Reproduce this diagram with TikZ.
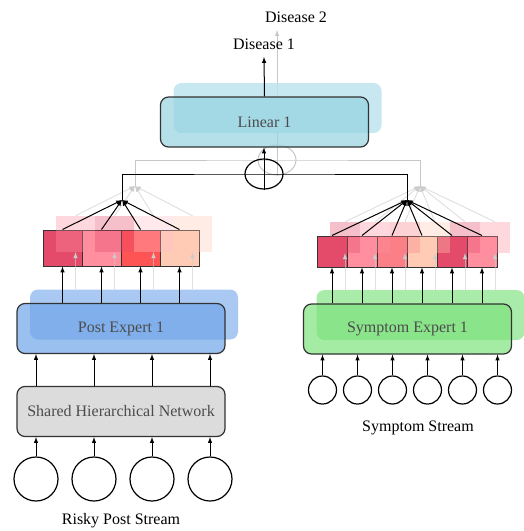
\documentclass[tikz,border=0pt]{standalone}
\usepackage{fontspec}
\setmainfont{Liberation Serif}
\usetikzlibrary{shapes.geometric}

\definecolor{crimsoncell}{HTML}{E44B6B}
\definecolor{pinkcell}{HTML}{FF8E9E}
\definecolor{redcell}{HTML}{FF5454}
\definecolor{salmoncell}{HTML}{FA7F87}
\definecolor{peachcell}{HTML}{FFCBB5}
\definecolor{lightpinkcell}{HTML}{FFC0CB}
\definecolor{sharedfill}{HTML}{DCDCDC}
\definecolor{postfill}{HTML}{6FA5E9}
\definecolor{postback}{HTML}{A9C9F2}
\definecolor{symptomfill}{HTML}{7EE27E}
\definecolor{symptomback}{HTML}{A9ECA9}
\definecolor{linearfill}{HTML}{95D3E1}
\definecolor{linearback}{HTML}{BEE4EE}

\begin{document}
\begin{tikzpicture}[x=1pt, y=-1pt, >=latex, font=\fontsize{16}{19}\selectfont,
    block/.style={draw=black!80, line width=1.2pt, rounded corners=8pt,
        minimum width=208pt, minimum height=50pt, text=black!70, fill opacity=0.7, text opacity=1},
    backblock/.style={rounded corners=8pt, minimum width=208pt, minimum height=50pt},
    cell/.style={draw=black!80, line width=1pt, inner sep=0pt,
        minimum width=39pt, minimum height=36pt},
    backcell/.style={inner sep=0pt, minimum width=39pt, minimum height=36pt, fill opacity=0.35},
    neuron/.style={circle, draw, line width=1.2pt, inner sep=0pt},
    link/.style={line width=1pt},
    backlink/.style={draw=black!22, line width=1pt},
    faintlink/.style={draw=black!20, draw opacity=0.6, line width=1pt}]

    \useasboundingbox (0,0) rectangle (524,531);

    % Shift of the second (Disease 2) layer
    \def\gx{13}
    \def\gy{-14}

    % Second layer, behind the boxes
    \begin{scope}[shift={(\gx,\gy)}]
        \coordinate (gaggL) at (122,200);
        \coordinate (gaggR) at (407,200);
        \coordinate (gout) at (264,44);
        \node[ellipse, draw=black!22, line width=1pt, minimum width=38pt,
            minimum height=30pt, inner sep=0pt] (gsum) at (264,174) {};
        \draw[backlink] (gaggL) |- (gsum.center) -| (gaggR);
        \draw[backlink, ->] (gsum.south) -- (gout);

        \node[backblock, fill=postback] (gpost) at (121,328.5) {};
        \node[backblock, fill=symptomback] (gsymptom) at (407.5,329) {};
        \node[backblock, fill=linearback, fill opacity=0.85] (glinear) at (264.5,122) {};
    \end{scope}

    % Boxes of the first layer
    \node[block, fill=sharedfill, fill opacity=1] (shared) at (121,411.5) {Shared Hierarchical Network};
    \node[block, fill=postfill] (post) at (121,328.5) {Post Expert 1};
    \node[block, fill=symptomfill] (symptom) at (407.5,329) {Symptom Expert 1};
    \node[block, fill=linearfill] (linear) at (264.5,122) {Linear 1};

    % Expert outputs
    \foreach \c [count=\i] in {crimsoncell,pinkcell,redcell,peachcell}
        \node[cell, fill=\c] (cl\i) at (23.5+39*\i,248) {};
    \foreach \c [count=\i] in {crimsoncell,pinkcell,salmoncell,peachcell,crimsoncell,pinkcell}
        \node[cell, minimum width=30pt, minimum height=31pt, fill=\c] (cr\i) at (302+30*\i,251.5) {};

    % Input streams
    \foreach \i in {1,...,4}
        \node[neuron, minimum size=44pt] (pl\i) at (-22+58*\i,479) {};
    \foreach \i in {1,...,6}
        \node[neuron, minimum size=28pt] (sr\i) at (287.5+35*\i,390) {};

    % Labels
    \node (risky) at (121,521) {Risky Post Stream};
    \node (stream) at (418,428) {Symptom Stream};
    \node (dis1) at (264,44) {Disease 1};
    \node (dis2) at (296,17) {Disease 2};

    \coordinate (aggL) at (122,200);
    \coordinate (aggR) at (407,200);
    \coordinate (out1) at (264,57);

    % Second layer outputs, over the first ones
    \begin{scope}[shift={(\gx,\gy)}]
        \foreach \c [count=\i] in {pinkcell,crimsoncell,lightpinkcell,peachcell} {
            \node[backcell, fill=\c] (gcl\i) at (23.5+39*\i,248) {};
            \draw[faintlink, ->] (gcl\i.south |- gpost.north) -- (gcl\i.south);
            \draw[faintlink, ->] (gcl\i.north) -- (gaggL);
        }
        \foreach \c [count=\i] in {crimsoncell,pinkcell,salmoncell,peachcell,crimsoncell,pinkcell} {
            \node[backcell, minimum width=30pt, minimum height=31pt, fill=\c] (gcr\i) at (302+30*\i,251.5) {};
            \draw[faintlink, ->] (gcr\i.south |- gsymptom.north) -- (gcr\i.south);
            \draw[faintlink, ->] (gcr\i.north) -- (gaggR);
        }
    \end{scope}

    % Connectors of the first layer
    \foreach \i in {1,...,4} {
        \draw[link, ->] (pl\i) -- (pl\i |- shared.south);
        \draw[link, ->] (pl\i |- shared.north) -- (pl\i |- post.south);
        \draw[link, ->] (cl\i.south |- post.north) -- (cl\i.south);
        \draw[link, ->] (cl\i.north) -- (aggL);
    }
    \foreach \i in {1,...,6} {
        \draw[link, ->] (sr\i) -- (sr\i |- symptom.south);
        \draw[link, ->] (cr\i.south |- symptom.north) -- (cr\i.south);
        \draw[link, ->] (cr\i.north) -- (aggR);
    }

    % Sum of both experts
    \node[ellipse, draw, line width=1.2pt, minimum width=38pt, minimum height=30pt,
        inner sep=0pt] (sum) at (264,174) {};
    \draw[link] (aggL) |- (sum.center) -| (aggR);
    \draw[link, ->] (sum.south) -- (sum.south |- linear.south);
    \draw[link, ->] (linear.north) -- (out1);

\end{tikzpicture}
\end{document}
